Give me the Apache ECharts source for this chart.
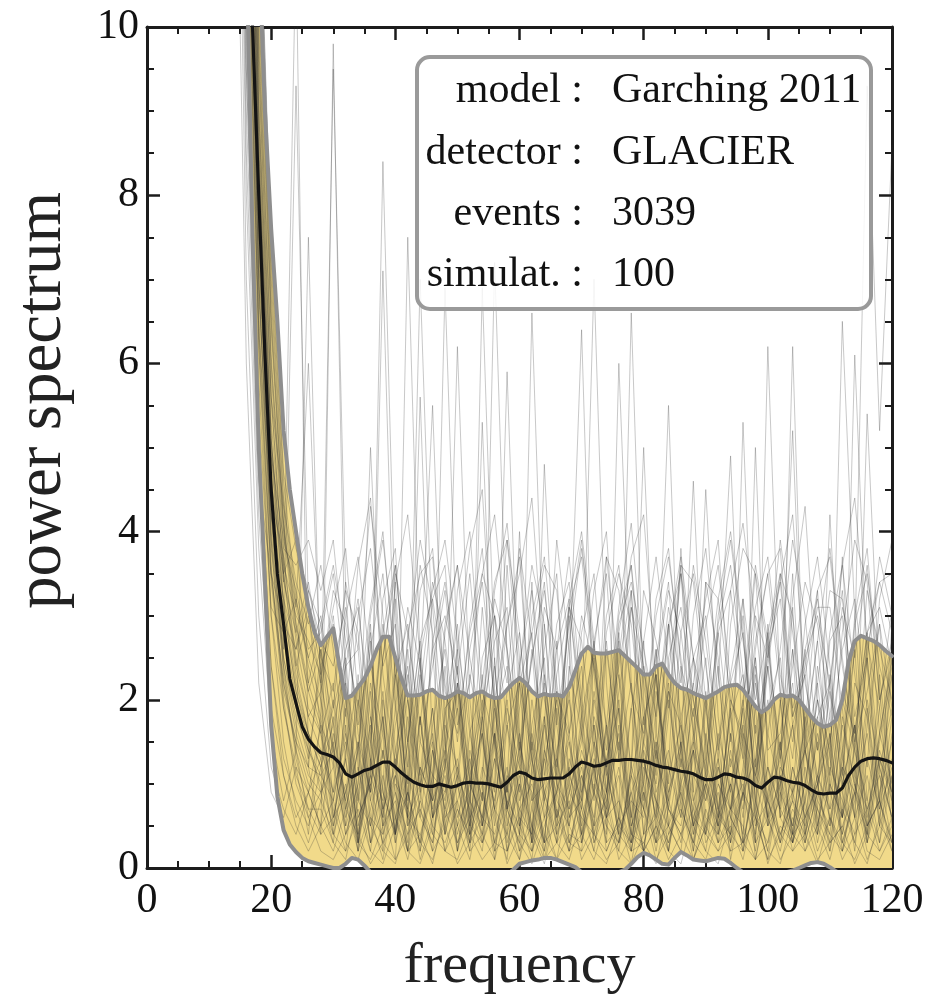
<!DOCTYPE html>
<html>
<head>
<meta charset="utf-8">
<script src="https://cdn.jsdelivr.net/npm/echarts@6/dist/echarts.min.js"></script>
<style>
  html, body { margin: 0; padding: 0; background: #fff; }
  #chart { width: 926px; height: 1000px; }
</style>
</head>
<body>
<div id="chart"></div>
<script>
// Frequency bins of the summary curves (1 Hz)
const freq = [14,15,16,17,18,19,20,21,22,23,24,25,26,27,28,29,30,31,32,33,34,35,36,37,38,39,40,41,42,43,
  44,45,46,47,48,49,50,51,52,53,54,55,56,57,58,59,60,61,62,63,64,65,66,67,68,69,70,71,72,73,
  74,75,76,77,78,79,80,81,82,83,84,85,86,87,88,89,90,91,92,93,94,95,96,97,98,99,100,101,102,103,
  104,105,106,107,108,109,110,111,112,113,114,115,116,117,118,119,120];

// Frequency bins of the individual simulated spectra (2 Hz)
const simFreq = [14,16,18,20,22,24,26,28,30,32,34,36,38,40,42,44,46,48,50,52,54,56,58,60,62,64,66,68,
  70,72,74,76,78,80,82,84,86,88,90,92,94,96,98,100,102,104,106,108,110,112,114,116,118,120];

// Mean of the ensemble
const meanCurve = [16,13,11.3,10,8,6.1,4.5,3.5,2.9,2.25,
  1.96,1.68,1.53,1.44,1.37,1.35,1.32,1.25,1.12,1.08,
  1.12,1.16,1.18,1.22,1.26,1.26,1.2,1.13,1.07,1.02,
  0.99,0.97,0.97,1.0,0.98,0.96,0.98,1.01,1.02,1.01,
  1.01,1.0,0.98,0.96,1.02,1.1,1.14,1.12,1.07,1.05,
  1.06,1.07,1.07,1.07,1.12,1.2,1.26,1.24,1.21,1.22,
  1.25,1.28,1.28,1.29,1.29,1.28,1.27,1.25,1.22,1.2,
  1.19,1.17,1.15,1.14,1.12,1.08,1.05,1.05,1.08,1.12,
  1.11,1.08,1.07,1.04,0.98,0.95,1.02,1.08,1.07,1.04,
  1.02,1.01,0.98,0.93,0.89,0.88,0.89,0.89,0.95,1.1,
  1.2,1.27,1.3,1.31,1.3,1.28,1.25];

// Upper edge of the spread band
const upperCurve = [25,20,16.5,13.5,11,9,7.6,6.5,5.2,4.5,
  4.0,3.5,3.1,2.8,2.65,2.75,2.85,2.4,2.02,2.05,
  2.15,2.25,2.4,2.6,2.75,2.75,2.5,2.25,2.05,2.05,
  2.06,2.1,2.12,2.05,2.02,2.05,2.1,2.08,2.03,2.08,
  2.1,2.05,2.02,2.03,2.12,2.2,2.26,2.2,2.1,2.04,
  2.07,2.05,2.06,2.04,2.15,2.35,2.55,2.63,2.56,2.55,
  2.55,2.57,2.59,2.52,2.45,2.38,2.3,2.3,2.4,2.43,
  2.3,2.2,2.14,2.12,2.08,2.05,2.02,2.06,2.1,2.15,
  2.17,2.18,2.12,2.02,1.92,1.85,1.9,2.0,2.06,2.04,
  2.05,2.0,1.9,1.8,1.72,1.68,1.7,1.76,2.0,2.45,
  2.7,2.76,2.73,2.7,2.65,2.58,2.52];

// Lower edge of the spread band
const lowerCurve = [14,12.5,11,7.5,5.0,3.4,1.7,0.85,0.45,0.28,
  0.19,0.12,0.08,0.06,0.04,0.02,0.0,0.0,0.05,0.12,
  0.1,0.03,-0.05,-0.08,-0.1,-0.1,-0.1,-0.1,-0.1,-0.1,
  -0.1,-0.1,-0.1,-0.1,-0.1,-0.1,-0.1,-0.1,-0.1,-0.1,
  -0.1,-0.1,-0.1,-0.1,-0.08,-0.02,0.05,0.07,0.09,0.1,
  0.12,0.12,0.1,0.07,0.04,0.01,-0.05,-0.08,-0.1,-0.1,
  -0.1,-0.08,-0.05,-0.02,0.05,0.13,0.18,0.15,0.1,0.05,
  0.04,0.12,0.19,0.15,0.1,0.09,0.08,0.1,0.12,0.11,
  0.06,0.0,-0.05,-0.08,-0.1,-0.1,-0.1,-0.1,-0.08,-0.05,
  -0.03,0.0,0.03,0.06,0.07,0.05,0.01,-0.04,-0.08,-0.1,
  -0.1,-0.1,-0.1,-0.1,-0.1,-0.1,-0.1];

// Individual simulated spectra on simFreq
const sim01 = [32,16,9,5.1,3.4,11,1.2,0.4, 9.8,2.1,0.3,1.5,0.7,0.1,2.6,1.1,0.5,1.9, 0.2,0.8,3.1,1.4,0.6,0.1,1.2,2.2,0.4,0.9, 1.6,0.3,0.7,2.8,1.1,0.2,0.5,1.8,3.6,0.8, 0.4,1.3,0.1,0.9,2.4,0.6,1.5,0.3,1.0,2.0, 0.5,1.2,0.2,1.7,2.9,0.7];
const sim02 = [27,14,7.8,4.2,2.6,9.3,3.1,1.6, 0.9,2.4,0.5,1.1,8.4,2.9,0.6,0.2,1.4,0.8, 2.2,0.4,1.0,0.1,1.7,0.9,3.4,0.6,1.3,0.3, 0.7,2.0,1.2,0.4,0.2,1.5,2.6,0.5,0.9,1.4, 0.3,0.6,1.9,3.0,0.8,0.2,1.1,0.5,1.6,0.4, 2.3,0.9,0.3,1.3,0.7,1.8];
const sim03 = [22,11,6.2,3.5,2.2,1.4,7.5,2.0, 0.6,1.3,0.2,2.7,0.9,0.4,1.8,0.7,0.3,1.2, 0.5,1.6,0.8,7.2,2.5,0.6,0.1,1.4,0.9,2.1, 0.3,1.0,0.6,1.7,0.4,0.2,1.3,0.8,2.4,0.5, 1.1,0.3,0.7,1.9,0.1,0.9,1.5,0.4,0.6,1.0, 0.2,1.4,2.6,0.5,0.8,0.3];
const sim04 = [45,22,12,7.2,4.6,3.2,2.4,1.8, 9.5,3.3,1.2,0.5,1.8,0.3,0.9,2.3,0.6,1.5, 0.2,1.1,0.4,2.0,0.7,1.3,0.3,2.9,1.0,0.5, 1.7,7.0,2.2,0.6,0.3,1.4,0.8,0.2,1.1,2.5, 0.6,0.4,1.6,0.9,0.2,1.2,0.7,3.1,0.4,1.0, 1.5,0.3,0.8,2.0,1.2,0.6];
const sim05 = [30,15,8,4.4,2.7,1.9,1.3,2.4, 0.8,1.6,0.3,1.1,7.1,2.0,0.5,0.9,0.2,1.7, 1.2,0.4,2.3,0.6,0.1,1.5,0.8,1.0,2.7,0.3, 0.9,1.4,0.2,0.6,1.9,0.4,1.2,2.1,0.7,0.3, 1.6,0.5,1.0,0.2,1.3,2.4,0.6,0.9,0.3,1.8, 0.7,1.1,2.6,9.3,5.2,8.6];
const sim06 = [20,9.5,5,2.4,1.3,0.8,0.5,1.2, 0.4,2.0,0.9,0.2,1.4,0.6,1.1,7.0,2.6,0.5, 1.0,0.3,1.8,0.7,0.4,2.2,1.3,0.1,0.9,1.6, 0.5,1.2,0.3,2.7,0.8,0.6,1.5,0.2,1.0,0.4, 1.9,0.7,0.3,1.1,2.3,0.5,0.8,6.2,1.4,0.6, 0.2,1.0,1.7,0.4,1.3,0.8];
const sim07 = [38,19,10.5,6.4,4.0,2.7,1.9,1.6, 2.2,0.7,1.4,0.3,1.0,3.2,0.5,1.2,0.8,6.9, 2.4,0.6,0.2,1.5,0.9,0.4,1.7,2.5,0.3,1.1, 0.7,0.2,1.3,1.9,0.5,1.0,0.3,2.2,0.8,1.4, 0.4,1.6,0.9,0.2,1.2,2.8,0.6,0.3,1.5,2.7, 1.0,6.5,3.0,0.8,1.9,0.5];
const sim08 = [25,12.5,7,3.8,2.4,1.6,1.1,0.9, 0.3,1.4,2.2,0.6,0.1,1.0,0.7,1.8,0.4,1.2, 6.2,2.0,0.5,1.3,0.8,0.2,1.6,0.9,0.4,2.3, 6.4,1.5,0.6,0.3,1.1,1.8,0.5,0.2,1.3,0.7, 2.0,0.4,1.0,1.7,0.6,0.3,1.2,0.9,2.6,0.5, 1.4,0.2,0.9,1.6,0.5,1.1];
const sim09 = [33,17,9.5,5.6,3.5,2.3,1.6,1.2, 1.7,0.5,1.0,2.9,0.4,1.3,0.2,0.8,1.9,0.6, 1.1,0.3,6.9,2.4,0.7,1.4,0.5,0.2,1.2,3.0, 0.4,0.9,1.6,0.3,1.1,0.7,2.3,0.5,0.2,1.5, 0.8,1.3,0.4,2.0,0.6,0.1,1.0,1.7,0.3,0.9, 2.1,0.6,6.1,2.4,0.7,1.2];
const sim10 = [14,6,2.2,0.9,0.6,1.2,0.4,1.8, 0.7,0.2,1.5,0.9,2.1,0.4,1.1,0.6,0.3,1.4, 2.2,0.8,0.4,1.0,5.9,1.6,0.3,0.9,1.3,0.5, 0.2,1.7,0.6,1.1,0.4,2.4,0.8,0.3,1.0,1.9, 0.5,1.2,0.3,5.3,1.5,0.6,0.2,0.9,1.4,0.7, 0.4,1.8,1.0,0.3,1.2,0.6];
const sim11 = [40,20,11,6.6,4.1,2.9,2.1,1.6, 0.5,1.9,0.3,1.2,0.8,2.5,0.6,5.6,1.4,0.4, 1.0,0.2,1.6,0.7,1.2,0.4,2.0,0.9,0.3,1.3, 0.8,2.1,1.1,0.5,6.6,2.0,0.4,0.9,1.5,0.2, 1.2,0.6,1.9,0.3,1.0,0.5,1.4,2.2,0.7,0.4, 1.6,0.3,0.9,2.5,1.1,0.6];
const sim12 = [27,13.5,7.4,4.0,2.5,1.7,1.2,2.6, 1.3,0.4,0.9,1.7,0.2,1.1,0.6,2.3,5.5,1.5, 0.6,1.2,0.3,0.8,2.0,0.5,1.5,0.2,1.0,0.7, 1.8,0.4,1.3,0.6,0.2,1.1,2.6,0.8,0.3,1.4, 0.9,0.5,1.6,0.3,5.0,1.2,0.7,0.4,1.8,1.0, 0.3,1.3,0.6,5.4,2.1,0.8];
const sim13 = [18,8.5,4.2,1.9,1.1,0.6,0.9,0.5, 1.6,0.8,0.2,1.3,0.5,1.9,0.7,0.3,1.1,0.9, 2.4,0.6,5.3,1.5,0.4,1.0,0.2,1.7,0.8,0.5, 1.3,0.3,0.9,2.0,0.6,0.2,1.4,0.7,1.8,0.4, 1.0,2.2,4.9,1.3,0.5,0.8,0.3,1.2,0.6,1.6, 0.9,0.4,1.5,0.7,1.1,0.3];
const sim14 = [36,18,10,5.9,3.7,2.5,1.8,1.4, 0.9,1.5,0.4,2.1,0.7,1.2,0.3,1.8,0.6,1.0, 0.2,1.4,0.8,2.5,0.5,1.1,0.3,4.8,1.7,0.6, 1.2,0.4,0.9,1.6,0.2,1.0,2.3,0.7,0.5,1.3, 4.5,1.8,0.6,0.3,1.1,0.8,1.9,5.2,1.4,0.4, 1.0,0.6,1.7,0.3,0.9,1.5];
const sim15 = [24,12,6.6,3.5,2.2,1.5,1.0,0.8, 1.8,0.6,1.2,0.3,2.0,0.9,0.4,1.5,1.1,0.2, 0.8,1.3,0.5,1.9,0.7,0.3,6.6,2.1,0.6,1.0, 0.4,1.5,0.9,0.2,1.2,0.7,1.6,5.5,1.3,0.5, 0.9,0.3,1.4,0.6,2.2,1.0,0.4,0.8,1.7,0.5, 1.2,0.8,0.4,1.9,0.6,1.3];
const sim16 = [42,21,11.5,7.0,4.4,3.1,6.0,2.2, 1.4,0.8,1.9,0.5,1.1,0.3,7.5,2.4,0.7,1.3, 0.4,1.0,0.6,1.6,0.2,1.2,0.9,0.3,2.1,0.7, 1.1,0.5,1.7,0.8,0.3,1.3,0.6,2.0,0.9,0.2, 1.5,0.7,0.4,1.2,2.5,0.6,1.0,0.3,1.4,0.8, 0.5,1.7,1.0,0.4,2.3,0.9];
const sim17 = [21,10.5,5.8,3.0,1.9,1.2,0.9,1.7, 0.6,1.3,0.3,1.8,0.9,0.4,1.5,0.2,1.0,2.4, 0.7,0.3,1.2,0.8,1.7,0.5,1.1,0.3,1.9,0.6, 1.4,0.9,0.4,6.0,2.2,0.7,0.3,1.2,0.6,1.6, 0.4,1.0,0.7,1.5,0.3,6.2,2.0,0.8,0.5,1.1, 1.8,0.6,1.2,0.3,1.4,0.9];
const sim18 = [31,15.5,8.6,5.0,3.1,2.1,1.5,0.9, 1.2,0.5,2.3,0.8,0.3,1.4,0.6,1.0,1.9,0.4, 1.1,0.7,0.3,1.6,0.9,2.2,0.4,1.3,0.6,0.2, 1.0,1.7,0.5,0.3,1.2,5.0,1.6,0.7,0.4,1.1, 0.8,1.5,0.3,0.9,1.3,0.6,2.0,0.4,1.0,0.7, 4.2,1.4,0.6,1.1,0.3,1.6];
const sim19 = [17,8,3.8,1.6,0.8,1.4,0.6,0.9, 1.5,0.4,1.0,5.0,1.7,0.6,0.2,1.2,0.8,1.4, 0.5,0.9,1.6,0.3,1.1,0.7,0.4,1.8,0.6,1.2, 0.3,1.3,0.8,1.5,0.5,0.9,0.2,1.1,1.7,0.6, 1.0,0.4,1.3,0.7,1.9,0.5,1.1,0.3,0.8,1.5, 0.6,1.2,0.9,0.4,1.6,1.0];
const sim20 = [29,14.5,8.2,4.7,2.9,2.0,1.4,1.1, 0.8,1.7,0.4,1.1,0.6,2.3,0.9,0.3,1.4,0.7, 1.2,0.5,1.8,0.2,1.0,4.0,1.3,0.6,0.9,1.5, 0.4,1.1,0.7,1.9,0.3,1.2,0.8,0.5,1.4,4.6, 1.3,0.6,1.0,0.4,1.7,0.8,0.3,1.2,0.6,1.0, 1.6,0.4,1.1,0.7,1.3,0.9];
const sim21 = [34,17,9.2,5.3,3.6,3.0,2.7,2.3, 3.1,3.8,2.0,0.8,1.6,3.4,4.2,2.5,1.1,2.9, 3.6,1.7,0.5,2.2,3.9,2.8,1.3,2.6,3.5,1.0, 2.1,3.3,4.0,1.8,0.6,2.7,3.7,2.4,1.2,3.0, 3.8,2.3,0.9,1.9,3.5,2.6,1.4,3.2,4.3,2.0, 1.1,2.8,3.9,3.4,1.6,2.5];
const sim22 = [26,13,7.2,4.6,3.5,3.9,2.2,2.9, 1.4,3.0,3.7,2.4,1.6,0.4,2.8,3.5,3.7,1.9, 2.1,0.5,1.8,3.3,4.1,2.5,0.8,1.7,3.9,2.6, 0.8,2.7,3.5,1.3,3.1,1.9,0.7,2.3,3.6,3.4, 2.0,0.6,2.9,3.8,3.5,1.4,1.6,2.6,0.4,2.2, 3.3,3.2,1.8,2.5,3.7,3.0];
const sim23 = [37,18.5,10.3,6.1,3.8,3.6,3.9,3.3, 3.9,2.4,2.6,0.9,3.2,3.8,1.5,2.7,3.2,3.6, 1.7,2.2,3.5,3.0,0.9,1.9,2.8,3.6,3.3,1.6, 2.4,0.8,3.7,3.3,2.1,1.6,3.0,3.7,2.5,0.9, 3.4,3.2,2.0,1.5,2.7,3.5,3.8,1.8,2.3,3.1, 3.1,1.9,0.6,2.8,3.4,3.5];
const sim24 = [23,11.5,6.4,4.2,3.2,2.6,3.1,2.4, 2.9,1.8,3.6,4.4,2.3,1.2,2.7,3.9,3.1,1.5, 2.6,3.8,4.5,2.0,0.9,2.4,3.6,2.9,1.3,3.2, 4.0,2.7,1.1,2.5,3.7,4.2,2.2,1.0,2.8,3.5, 2.4,1.3,3.3,4.1,2.9,1.6,2.6,3.9,3.0,1.4, 2.2,3.6,4.4,2.7,1.9,3.1];
const sim25 = [28,14,7.6,4.9,3.9,3.3,2.6,2.8, 3.5,2.2,1.4,3.0,3.9,2.5,0.8,2.1,3.4,2.7, 1.5,2.9,3.8,1.9,0.7,2.4,3.3,2.0,1.2,3.1, 3.7,2.3,0.9,2.8,3.6,1.7,2.5,3.4,1.4,2.2, 3.2,3.9,1.8,0.8,2.6,3.5,2.1,1.3,2.9,3.7, 2.4,1.1,3.0,3.8,2.0,2.7];
const sim26 = [39,19.5,10.8,6.5,4.1,2.8,3.4,2.5, 2.1,3.3,2.8,1.2,2.5,3.6,2.0,0.9,2.7,3.4, 2.3,1.0,1.9,3.2,2.6,1.4,3.0,3.7,2.2,1.1, 2.8,3.5,1.6,2.4,3.3,1.3,0.6,2.5,3.1,2.0, 1.2,2.9,3.6,2.3,1.0,2.7,3.4,1.8,2.4,3.3, 1.5,2.6,3.2,1.9,0.8,2.3];
const sim27 = [32,16,8.8,5.1,3.2,2.2,1.6,1.3, 1.9,2.5,0.8,1.6,2.9,1.2,2.0,0.6,1.7,2.6, 1.0,2.3,1.5,0.7,2.1,2.8,1.1,1.8,0.5,2.4, 1.6,0.9,2.7,1.3,2.2,0.4,1.9,2.9,1.0,1.5, 2.5,0.7,1.8,2.3,1.1,2.0,0.6,2.6,1.4,2.2, 0.9,2.1,1.6,2.8,1.2,1.9];
const sim28 = [24,12,6.4,3.4,2.1,1.5,1.2,1.1, 1.4,0.9,2.0,1.3,0.6,1.7,2.4,1.0,1.5,0.7, 2.2,1.1,1.6,0.5,1.9,1.2,2.6,0.8,1.4,2.0, 0.9,1.8,1.2,2.3,0.6,1.5,1.0,2.1,1.7,0.8, 1.3,2.4,0.7,1.6,1.1,1.9,2.5,0.9,1.4,1.8, 2.2,1.0,1.7,0.6,1.5,2.3];
const sim29 = [44,22,12,7.4,4.7,3.8,3.3,2.9, 3.6,2.7,1.9,3.1,4.0,2.3,1.5,3.3,3.8,2.1, 1.6,2.8,3.5,4.2,2.6,1.3,2.5,3.4,1.7,2.9, 3.9,2.4,1.4,3.0,3.6,2.2,1.1,2.8,3.7,2.5, 1.9,3.2,4.0,2.8,1.2,2.4,3.5,3.0,1.6,2.7, 3.8,2.5,1.4,3.3,2.6,2.0];
const sim30 = [19,9,4.6,3.5,2.9,2.6,3.3,2.7, 2.4,3.1,1.6,0.9,2.5,3.5,2.8,1.7,3.2,2.2, 1.1,2.6,3.4,2.0,2.9,3.7,1.5,0.8,2.3,3.1, 2.7,1.4,3.0,3.6,2.1,1.0,2.4,3.3,2.8,1.6, 3.4,2.5,1.2,2.0,3.1,3.7,2.3,1.5,2.6,3.2, 2.1,1.3,2.9,3.5,2.4,1.8];
const sim31 = [35,17.5,9.6,5.6,3.5,2.4,1.8,2.1, 3.0,1.6,0.8,2.2,1.3,3.4,1.0,2.5,0.6,1.8, 2.9,1.2,2.0,0.9,3.6,1.5,0.7,2.3,1.1,3.1, 1.9,0.5,2.6,1.4,3.3,0.8,2.1,1.2,3.8,1.6, 0.9,2.8,1.5,3.2,0.7,2.4,1.3,3.5,1.0,2.0, 1.4,3.7,1.1,2.5,0.8,2.9];
const sim32 = [26,13,7.0,3.9,2.5,1.8,1.4,1.0, 0.5,1.0,0.2,0.7,1.4,0.4,0.9,0.1,0.6,1.1, 0.3,0.8,0.5,1.3,0.2,0.7,1.0,0.4,0.1,0.9, 0.6,1.2,0.3,0.5,0.8,0.2,1.5,0.4,0.7,0.3, 1.0,0.5,0.2,0.9,0.6,1.2,0.3,0.7,0.4,1.1, 0.6,0.2,1.0,0.5,0.8,0.3];
const sim33 = [30,15,8.4,4.9,3.1,2.1,1.6,1.2, 2.0,0.7,1.4,2.8,0.5,1.1,2.3,0.9,1.6,0.4, 2.6,1.0,0.6,1.8,2.4,0.8,1.3,0.3,2.1,1.5, 0.7,2.5,1.2,0.4,1.9,2.7,0.9,1.4,0.6,2.2, 1.1,0.5,2.0,1.6,0.3,2.9,1.0,1.7,0.8,2.4, 1.3,0.6,2.2,1.8,0.5,2.6];
const sim34 = [21,10,5.4,3.1,2.8,3.2,2.5,3.0, 1.9,3.4,2.6,4.3,3.0,1.4,2.2,3.6,2.8,1.2, 3.3,4.0,2.1,1.5,2.9,3.5,4.4,2.3,1.0,2.7, 3.8,2.6,1.7,3.1,4.1,2.4,1.3,2.9,3.5,2.0, 1.1,3.0,3.9,2.7,1.6,2.5,3.4,4.2,2.2,1.4, 2.8,3.6,2.3,1.2,3.2,3.9];
const sim35 = [41,20.5,11.3,6.8,4.3,2.9,2.2,1.7, 1.3,2.2,0.6,1.0,1.8,0.4,1.5,2.7,0.8,1.2, 1.9,0.5,1.1,2.4,0.7,1.6,0.3,1.3,2.0,0.9, 1.5,2.6,0.6,1.2,0.4,1.8,2.3,0.9,1.4,0.5, 2.1,1.0,0.6,1.7,2.5,0.8,1.3,0.4,1.9,1.1, 0.7,2.0,1.4,0.5,1.6,2.4];
const sim36 = [16,7,3.0,1.2,0.7,0.4,0.9,1.3, 0.4,0.9,1.5,0.3,0.7,1.1,0.2,1.8,0.6,0.9, 1.3,0.4,0.8,1.6,0.3,1.0,0.5,1.4,0.7,0.2, 1.1,0.6,1.7,0.4,0.9,1.3,0.3,0.8,1.5,0.5, 0.2,1.2,0.7,1.0,0.4,1.6,0.9,0.5,1.2,0.3, 1.0,0.6,1.4,0.8,0.3,1.1];
const sim37 = [33,16.5,9,5.6,4.3,3.4,2.9,3.6, 2.6,1.3,3.0,3.8,2.4,2.9,1.2,2.5,3.3,3.9, 2.7,1.6,2.2,3.4,3.9,2.3,1.4,3.1,2.6,3.7, 2.0,1.1,2.8,3.5,2.9,1.5,3.2,3.8,2.4,1.8, 2.9,3.6,2.2,1.3,3.0,2.5,3.9,2.8,1.7,3.3, 3.7,2.4,1.5,2.6,3.4,2.8];
const sim38 = [25,12.5,6.8,4.4,3.7,2.4,3.0,2.2, 3.3,2.9,1.7,2.6,3.5,1.9,3.1,2.4,0.9,2.8, 3.6,2.5,1.6,3.0,2.2,3.8,2.7,1.4,2.9,3.4, 1.8,2.6,3.7,2.3,1.2,3.3,2.7,1.9,3.5,2.5, 1.5,2.8,3.3,2.1,3.6,2.7,1.3,2.4,3.4,2.9, 1.8,3.1,2.5,3.6,2.0,2.6];
const sim39 = [30,15,8.2,5.1,3.4,2.8,2.1,2.6, 1.7,2.4,3.2,1.5,2.8,3.6,2.0,1.1,2.6,3.0, 2.3,3.5,1.8,2.7,3.1,1.4,2.5,3.3,2.1,1.6, 3.0,2.4,1.2,2.9,3.4,2.6,1.8,3.1,2.2,3.6, 2.7,1.5,2.3,3.2,2.0,2.8,3.5,1.9,2.5,3.0, 2.2,3.3,1.6,2.8,3.1,2.4];
const sim40 = [36,18,9.8,6.0,4.0,3.1,2.5,2.0, 1.2,2.6,3.1,1.8,0.7,2.3,2.9,1.5,2.4,3.3, 1.9,0.8,2.5,3.0,1.7,2.2,2.8,1.1,2.6,3.2, 1.6,2.7,0.9,2.1,3.1,2.4,1.3,2.9,1.8,2.5, 3.0,1.4,2.2,2.8,0.8,2.6,3.2,1.7,2.3,1.0, 2.7,3.0,1.5,2.1,2.9,1.9];
const sim41 = [28,14,7.5,3.9,2.0,1.0,0.6,0.2, 0.1,0.4,0.7,0.2,0.05,0.5,0.9,0.3,0.1,0.6, 0.8,0.2,0.4,0.1,0.7,0.3,0.05,0.5,0.9,0.2, 0.4,0.1,0.6,0.8,0.2,0.3,0.05,0.7,0.4,0.1, 0.5,0.9,0.2,0.3,0.6,0.1,0.4,0.8,0.2,0.5, 0.1,0.7,0.3,0.05,0.6,0.2];
const sim42 = [33,16,8.6,4.6,2.4,1.3,0.7,0.7, 0.3,0.1,0.8,0.5,0.2,0.05,0.6,0.4,0.9,0.2, 0.1,0.5,0.3,0.7,0.05,0.4,0.2,0.8,0.3,0.1, 0.6,0.4,0.1,0.3,0.9,0.2,0.5,0.1,0.4,0.7, 0.2,0.05,0.6,0.3,0.1,0.8,0.4,0.2,0.6,0.1, 0.3,0.5,0.9,0.2,0.1,0.4];
const sim43 = [26,13,7,3.6,1.9,1.1,0.7,0.4, 0.6,0.9,0.3,0.1,0.5,0.8,0.2,0.4,0.05,0.7, 0.3,0.6,0.9,0.2,0.4,0.1,0.7,0.3,0.5,0.8, 0.1,0.4,0.2,0.6,0.05,0.9,0.3,0.5,0.2,0.1, 0.7,0.3,0.5,0.1,0.8,0.2,0.05,0.6,0.3,0.9, 0.4,0.2,0.6,0.1,0.5,0.3];
const sim44 = [24,12,6.2,3.0,1.5,0.7,0.3,0.8, 0.4,0.2,0.6,1.0,0.3,0.1,0.4,0.7,0.2,0.5, 0.05,0.3,0.6,0.4,1.0,0.2,0.5,0.1,0.3,0.6, 0.8,0.2,0.05,0.5,0.3,0.7,0.1,0.4,0.9,0.3, 0.1,0.6,0.4,0.2,0.7,0.05,0.5,0.3,0.8,0.2, 0.6,0.1,0.4,0.7,0.2,0.5];
const sim45 = [30,15,8.0,4.2,2.3,1.4,0.9,0.5, 0.2,0.7,0.4,0.05,0.3,0.6,0.1,0.8,0.4,0.2, 0.5,0.1,0.9,0.3,0.2,0.6,0.4,0.05,0.7,0.3, 0.2,0.5,0.8,0.1,0.4,0.3,0.7,0.2,0.05,0.6, 0.4,0.2,0.7,0.5,0.1,0.3,0.9,0.2,0.4,0.05, 0.6,0.3,0.1,0.5,0.8,0.2];
const sim46 = [20,9.5,5.0,2.4,1.1,0.5,0.2,0.5, 0.8,0.3,0.1,0.6,0.4,0.9,0.2,0.05,0.5,0.3, 0.7,0.4,0.1,0.3,0.8,0.5,0.2,0.6,0.1,0.4, 0.3,0.9,0.5,0.2,0.05,0.4,0.6,0.3,0.8,0.1, 0.5,0.2,0.4,0.9,0.3,0.6,0.1,0.4,0.2,0.7, 0.3,0.5,0.05,0.4,0.2,0.6];

const simulations = [sim01, sim02, sim03, sim04, sim05, sim06, sim07, sim08, sim09, sim10,
  sim11, sim12, sim13, sim14, sim15, sim16, sim17, sim18, sim19, sim20,
  sim21, sim22, sim23, sim24, sim25, sim26, sim27, sim28, sim29, sim30,
  sim31, sim32, sim33, sim34, sim35, sim36, sim37, sim38, sim39, sim40,
  sim41, sim42, sim43, sim44, sim45, sim46];

// Axis ranges and tick spacing
const xRange = [0, 120], xStep = 20, xMinorSplits = 4;
const yRange = [0, 10], yStep = 2, yMinorSplits = 4;

// Info box contents
const infoKeys = ['model :', 'detector :', 'events :', 'simulat. :'];
const infoValues = ['Garching 2011', 'GLACIER', '3039', '100'];

const serif = '"Liberation Serif", "Times New Roman", serif';
const ink = '#1c1c1c';
const pairs = (xs, ys) => xs.map((f, i) => [f, ys[i]]);

function frameAxis(pos, range, step, minor, withLabels, extra) {
  return Object.assign({
    type: 'value', position: pos, min: range[0], max: range[1], interval: step,
    axisLine: { show: true, onZero: false, lineStyle: { color: ink, width: 3 } },
    axisTick: { show: true, inside: true, length: 13, lineStyle: { color: ink, width: 2.5 } },
    minorTick: { show: true, splitNumber: minor, length: 7, lineStyle: { color: ink, width: 2 } },
    splitLine: { show: false },
    minorSplitLine: { show: false },
    axisLabel: withLabels
      ? { show: true, fontFamily: serif, fontSize: 42, color: '#111' }
      : { show: false }
  }, extra || {});
}

const series = [];
// yellow spread band: polygon running along the upper edge and back along the lower edge
series.push({
  type: 'custom', z: 1, silent: true,
  data: [[freq[0], upperCurve[0]]],
  renderItem: (params, api) => {
    const pts = [];
    for (let i = 0; i < freq.length; i++) pts.push(api.coord([freq[i], upperCurve[i]]));
    for (let i = freq.length - 1; i >= 0; i--) pts.push(api.coord([freq[i], lowerCurve[i]]));
    const cs = params.coordSys;
    return {
      type: 'polygon',
      shape: { points: pts },
      style: { fill: '#f1da8a' },
      clipPath: { type: 'rect', shape: { x: cs.x, y: cs.y, width: cs.width, height: cs.height } }
    };
  }
});
// individual spectra
simulations.forEach(sim => {
  series.push({
    type: 'line', data: pairs(simFreq, sim), showSymbol: false, silent: true, z: 3,
    lineStyle: { width: 1, color: 'rgba(50,50,50,0.27)' }
  });
});
// band edges and mean curve
[upperCurve, lowerCurve].forEach(edge => {
  series.push({
    type: 'line', data: pairs(freq, edge), showSymbol: false, silent: true, z: 4,
    lineStyle: { width: 4, color: '#8e8e8e', join: 'round', cap: 'round' }
  });
});
series.push({
  type: 'line', data: pairs(freq, meanCurve), showSymbol: false, silent: true, z: 5,
  lineStyle: { width: 3.2, color: '#141414', join: 'round', cap: 'round' }
});

// info box
const graphic = [{
  type: 'rect', z: 100,
  shape: { x: 417, y: 57, width: 454, height: 252, r: 13 },
  style: { fill: 'rgba(255,255,255,0.84)', stroke: '#9a9a9a', lineWidth: 4 }
}];
const rowY = [91, 153, 214, 275];
infoKeys.forEach((k, i) => {
  graphic.push({
    type: 'text', z: 101, x: 583, y: rowY[i],
    style: { text: k, fontFamily: serif, fontSize: 42, fill: '#111', align: 'right', verticalAlign: 'middle' }
  });
  graphic.push({
    type: 'text', z: 101, x: 612, y: rowY[i],
    style: { text: infoValues[i], fontFamily: serif, fontSize: 42, fill: '#111', align: 'left', verticalAlign: 'middle' }
  });
});

const chart = echarts.init(document.getElementById('chart'), null, { renderer: 'canvas' });
chart.setOption({
  animation: false,
  backgroundColor: '#ffffff',
  grid: { left: 147, right: 34, top: 27, bottom: 132, containLabel: false, outerBoundsMode: 'none' },
  xAxis: [
    frameAxis('bottom', xRange, xStep, xMinorSplits, true, {
      name: 'frequency', nameLocation: 'middle', nameGap: 70,
      nameTextStyle: { fontFamily: serif, fontSize: 58, color: '#222' },
      axisLabel: { show: true, fontFamily: serif, fontSize: 42, color: '#111', margin: 12 }
    }),
    frameAxis('top', xRange, xStep, xMinorSplits, false)
  ],
  yAxis: [
    frameAxis('left', yRange, yStep, yMinorSplits, true, {
      name: 'power spectrum', nameLocation: 'middle', nameGap: 72, nameRotate: 90,
      nameTextStyle: { fontFamily: serif, fontSize: 65, color: '#222', padding: [0, 0, 0, 94] },
      axisLabel: { show: true, fontFamily: serif, fontSize: 42, color: '#111', margin: 8 }
    }),
    frameAxis('right', yRange, yStep, yMinorSplits, false)
  ],
  series: series,
  graphic: graphic
});
</script>
</body>
</html>
